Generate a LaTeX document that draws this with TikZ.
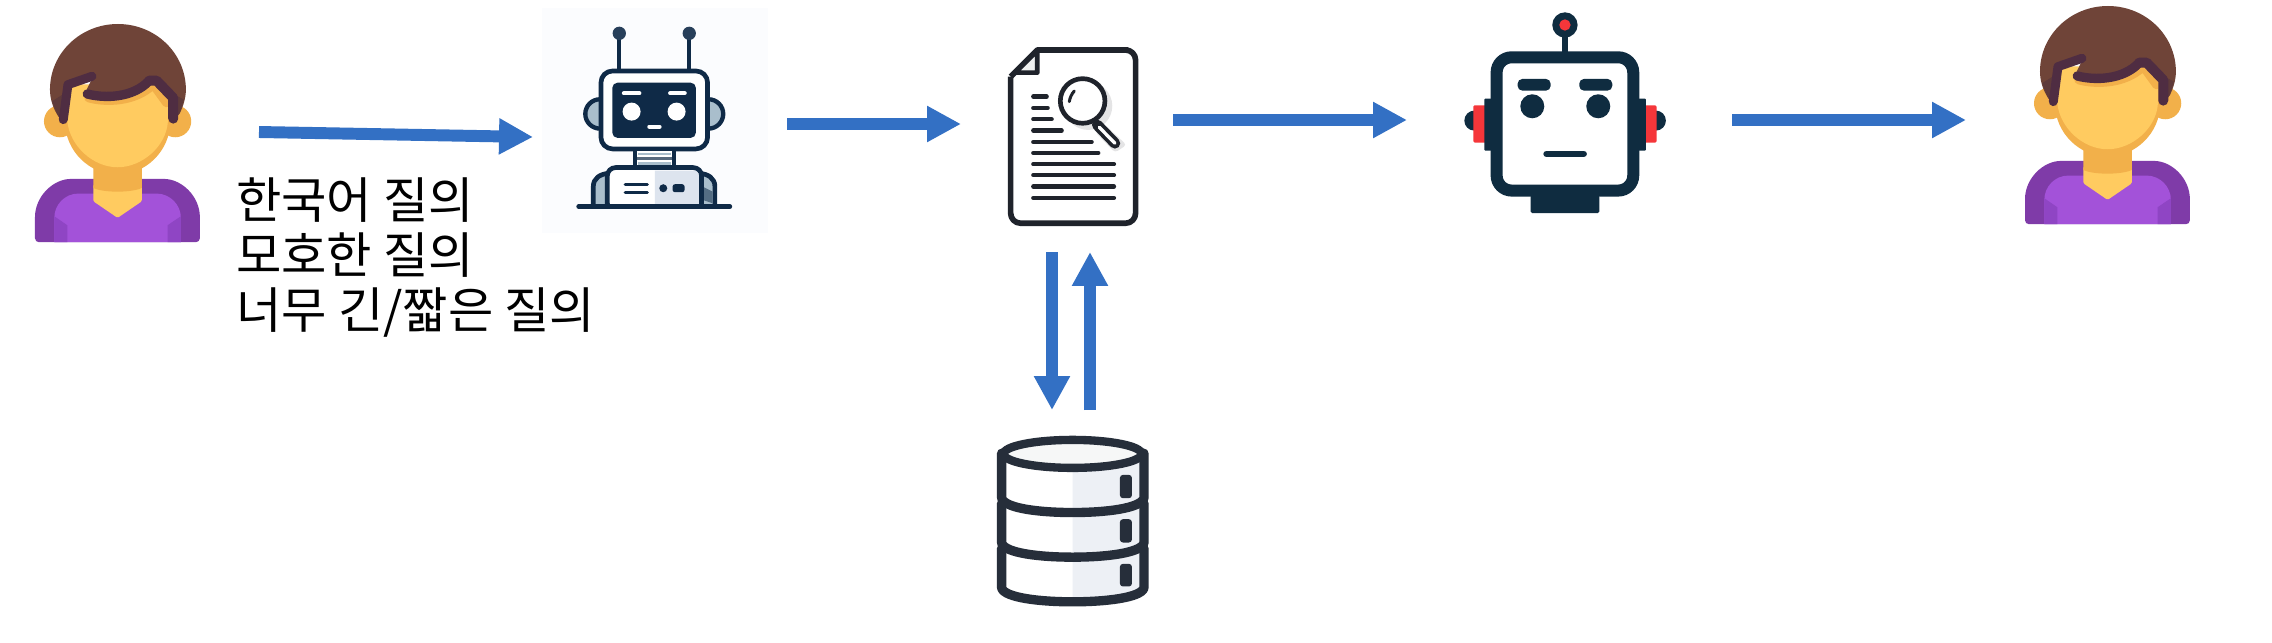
\documentclass[tikz,border=0pt]{standalone}
\usepackage{fontspec}
\newfontfamily\krfont{Noto Sans CJK KR}
\usetikzlibrary{arrows.meta}
\definecolor{arrowblue}{HTML}{3370C4}
\definecolor{hairbrown}{HTML}{6F4438}
\definecolor{hairshade}{HTML}{5E3A3A}
\definecolor{hairdark}{HTML}{4F2D42}
\definecolor{skin}{HTML}{FFCB60}
\definecolor{skindark}{HTML}{F2B04A}
\definecolor{shirtdark}{HTML}{7F3BA8}
\definecolor{shirtmid}{HTML}{8F45C4}
\definecolor{shirt}{HTML}{A352D9}
\definecolor{navy}{HTML}{0F2A47}
\definecolor{steel}{HTML}{A9BECC}
\definecolor{panel}{HTML}{DDE4EE}
\definecolor{paleback}{HTML}{FBFCFE}
\definecolor{ink}{HTML}{1F232B}
\definecolor{dbink}{HTML}{262E3A}
\definecolor{dbshade}{HTML}{EDF0F5}
\definecolor{botnavy}{HTML}{0F2C40}
\definecolor{botred}{HTML}{F5363A}
\tikzset{
  cropat/.style 2 args={shift={(#1,#2)},x=0.01cm,y=-0.01cm},
  lw/.style={line width=#1*0.2845pt},
  flow/.style={draw=arrowblue,line width=10.2pt,-{Triangle[length=29pt,width=29pt]}},
  rnd/.style={line cap=round,line join=round},
  query/.style={anchor=north west,inner sep=0pt,align=left,font=\krfont\fontsize{42.1pt}{47.2pt}\selectfont}
}
\newcommand{\personicon}[2]{%
\begin{scope}[cropat={#1}{#2}]
  % ears
  \fill[skindark] (210,310) circle[radius=48];
  \fill[skindark] (556,310) circle[radius=48];
  % shirt
  \fill[shirtdark,rounded corners=0.12cm] (135,673) -- (135,610) .. controls (135,535) and (190,483) .. (255,483) -- (510,483) .. controls (575,483) and (630,535) .. (630,610) -- (630,673) -- cycle;
  \fill[shirt] (193,673) -- (193,600) .. controls (193,560) and (225,527) .. (265,527) -- (500,527) .. controls (540,527) and (573,560) .. (573,600) -- (573,673) -- cycle;
  \fill[shirtmid] (193,595) -- (232,622) -- (232,673) -- (193,673) -- cycle;
  \fill[shirtmid] (573,595) -- (533,622) -- (533,673) -- (573,673) -- cycle;
  % neck
  \fill[skin,rounded corners=0.04cm] (310,500) -- (456,500) -- (456,550) -- (383,600) -- (310,550) -- cycle;
  \fill[skindark] (310,440) -- (456,440) -- (456,510) .. controls (425,525) and (340,525) .. (310,510) -- cycle;
  % face
  \fill[skindark] (225,200) -- (225,310) .. controls (225,400) and (300,470) .. (383,470) .. controls (466,470) and (541,400) .. (541,310) -- (541,200) -- cycle;
  \fill[skin] (232,200) -- (232,310) .. controls (240,385) and (310,448) .. (383,448) .. controls (456,448) and (530,385) .. (534,310) -- (534,200) -- cycle;
  % fringe shadow
  \draw[skindark,lw=26,rnd] (296,240) .. controls (345,254) and (435,254) .. (490,200) -- (530,255);
  % hair
  \fill[hairbrown] (180,215) .. controls (180,106) and (271,18) .. (384,18) .. controls (497,18) and (588,106) .. (588,215) .. controls (588,240) and (580,265) .. (570,285) -- (548,312) -- (545,240) -- (490,180) .. controls (450,215) and (420,235) .. (370,235) -- (290,232) -- (290,215) -- (310,175) -- (225,205) -- (222,312) -- (205,295) .. controls (188,270) and (180,240) .. (180,215) -- cycle;
  \fill[hairshade] (186,250) -- (226,225) -- (222,312) -- (205,295) -- cycle;
  \fill[hairshade] (582,245) -- (545,225) -- (548,312) -- (570,285) -- cycle;
  % hair strands
  \draw[hairdark,lw=27,rnd] (306,175) -- (234,200) -- (220,305);
  \draw[hairdark,lw=28,rnd] (292,228) .. controls (345,242) and (430,240) .. (478,188);
  \draw[hairdark,lw=30,rnd] (478,188) -- (500,188) -- (550,240) -- (550,302);
\end{scope}}
\begin{document}
\begin{tikzpicture}[x=0.03cm,y=-0.03cm]
\useasboundingbox (0,0) rectangle (2272,642);
\fill[white] (0,0) rectangle (2272,642);

% user, left
\personicon{-10}{18}

% query rewriting robot
\begin{scope}[cropat={520}{0}]
  \fill[paleback] (65,25) rectangle (745,700);
  \draw[navy,lw=11] (298,100) -- (298,215);
  \draw[navy,lw=11] (508,100) -- (508,215);
  \fill[navy!90!white] (298,100) circle[radius=20];
  \fill[navy!90!white] (508,100) circle[radius=20];
  \draw[navy,lw=13,fill=steel] (240,342) circle[radius=44];
  \draw[navy,lw=13,fill=steel] (566,342) circle[radius=44];
  \draw[navy,lw=14,fill=white,rounded corners=0.35cm] (243,213) rectangle (563,447);
  \fill[navy,rounded corners=0.16cm] (277,248) rectangle (528,414);
  \fill[white] (335,335) circle[radius=27];
  \fill[white] (470,335) circle[radius=27];
  \draw[white,lw=13,rnd] (312,280) -- (358,280);
  \draw[white,lw=13,rnd] (451,280) -- (494,280);
  \draw[white,lw=12,rnd] (388,380) -- (419,380);
  % neck
  \draw[navy,lw=13,fill=white] (345,447) rectangle (462,505);
  \fill[steel] (355,458) rectangle (452,466);
  \fill[navy!70!white] (352,472) rectangle (455,480);
  \fill[steel] (355,486) rectangle (452,496);
  % arms
  \draw[navy,lw=14,fill=steel] (220,618) -- (220,560) .. controls (220,535) and (240,522) .. (268,520) -- (268,618);
  \draw[navy,lw=14,fill=steel] (585,618) -- (585,560) .. controls (585,535) and (565,522) .. (537,520) -- (537,618);
  \fill[navy!55!steel] (548,600) -- (548,560) -- (578,575) -- (578,610) -- cycle;
  % torso
  \fill[white,rounded corners=0.25cm] (262,618) -- (262,503) -- (545,503) -- (545,618) -- cycle;
  \fill[panel] (405,512) -- (528,512) -- (542,530) -- (542,614) -- (405,614) -- cycle;
  \draw[navy,lw=14,rounded corners=0.25cm] (262,618) -- (262,503) -- (545,503) -- (545,618);
  \draw[navy,lw=10,line cap=round] (316,553) -- (382,553);
  \draw[navy,lw=10,line cap=round] (316,577) -- (382,577);
  \fill[navy] (430,565) circle[radius=12];
  \fill[navy,rounded corners=0.07cm] (458,553) rectangle (494,577);
  \draw[navy,lw=14,rnd] (176,620) -- (630,620);
\end{scope}

% document with magnifier
\begin{scope}[cropat={980}{30}]
  \draw[ink,lw=17,fill=white,line join=round,rounded corners=0.3cm] (440,60) -- (467,60) -- (467,580) -- (92,580) -- (92,140);
  \draw[ink,lw=17,line join=round] (92,140) -- (172,60) -- (445,60);
  \draw[ink,lw=14,fill=white!93!ink,line join=round] (172,62) -- (172,128) -- (105,128) -- cycle;
  \foreach \yy/\xx in {200/200,234/203,268/215,302/245,336/335,369/355,403/402,436/402,470/402,504/402}
    \draw[ink,lw=13,line cap=round] (160,\yy) -- (\xx,\yy);
  \fill[ink!12!white] (325,228) circle[radius=72];
  \fill[ink!12!white,rounded corners=0.1cm] (370,280) -- (345,305) -- (405,368) -- (440,345) -- cycle;
  \draw[ink,lw=32,line cap=round] (352,285) -- (405,340);
  \draw[white,lw=10,line cap=round] (358,292) -- (405,340);
  \draw[ink,lw=14,fill=white] (308,213) circle[radius=67];
  \draw[ink,lw=9,line cap=round] (283,183) .. controls (275,192) and (270,203) .. (268,215);
\end{scope}

% database
\begin{scope}[cropat={960}{240}]
  \foreach \ya/\yb/\yc in {925/1045/1086,790/910/952,640/775/818}{
    \fill[white] (125,\ya) -- (125,\yb) .. controls (135,\yc-12) and (240,\yc) .. (338,\yc) .. controls (436,\yc) and (542,\yc-12) .. (552,\yb) -- (552,\ya) -- cycle;
    \fill[dbshade] (338,\ya) -- (338,\yc) .. controls (436,\yc) and (542,\yc-12) .. (552,\yb) -- (552,\ya) -- cycle;
    \draw[dbink,lw=28,rnd] (125,\ya) -- (125,\yb) .. controls (135,\yc-12) and (240,\yc) .. (338,\yc) .. controls (436,\yc) and (542,\yc-12) .. (552,\yb) -- (552,\ya);
  }
  \draw[dbink,lw=25,fill=white!96!dbink] (338,642) ellipse[x radius=207,y radius=42];
  \foreach \ya/\yb in {705/775,838/908,972/1040}
    \fill[dbink,rounded corners=0.09cm] (480,\ya) rectangle (516,\yb);
\end{scope}

% answering robot
\begin{scope}[cropat={1440}{0}]
  \fill[botnavy] (103,362) circle[radius=30];
  \fill[botnavy] (648,362) circle[radius=30];
  \fill[botred,rounded corners=0.04cm] (100,316) rectangle (140,428);
  \fill[botred,rounded corners=0.04cm] (610,316) rectangle (650,428);
  \fill[botnavy,rounded corners=0.03cm] (133,296) rectangle (175,452);
  \fill[botnavy,rounded corners=0.03cm] (575,296) rectangle (618,452);
  \fill[botnavy,rounded corners=0.05cm] (272,585) rectangle (478,640);
  \draw[botnavy,lw=18] (375,100) -- (375,160);
  \fill[botnavy] (375,75) circle[radius=38];
  \fill[botred] (375,75) circle[radius=17];
  \draw[botnavy,lw=36,fill=white,rounded corners=0.45cm] (170,172) rectangle (580,572);
  \fill[botnavy,rounded corners=0.14cm] (233,237) rectangle (332,272);
  \fill[botnavy,rounded corners=0.14cm] (418,237) rectangle (517,272);
  \fill[botnavy] (277,319) circle[radius=36];
  \fill[botnavy] (475,319) circle[radius=36];
  \draw[botnavy,lw=20,line cap=round] (320,462) -- (431,462);
\end{scope}

% user, right
\personicon{1980}{0}

% query text
\node[query] (querytext) at (236,177) {한국어 질의\\모호한 질의\\너무 긴/짧은 질의};

% connector end points
\coordinate (userout) at (259,132);
\coordinate (rewritein) at (533,137);
\coordinate (rewriteout) at (787,124);
\coordinate (searchin) at (961,124);
\coordinate (searchout) at (1173,120);
\coordinate (botin) at (1407,120);
\coordinate (botout) at (1732,120);
\coordinate (userin) at (1966,120);
\coordinate (searchdown) at (1052,252);
\coordinate (dbin) at (1052,410);
\coordinate (dbout) at (1090,410);
\coordinate (searchup) at (1090,252);

\draw[flow] (userout) -- (rewritein);
\draw[flow] (rewriteout) -- (searchin);
\draw[flow] (searchout) -- (botin);
\draw[flow] (botout) -- (userin);
\draw[flow] (searchdown) -- (dbin);
\draw[flow] (dbout) -- (searchup);
\end{tikzpicture}
\end{document}
